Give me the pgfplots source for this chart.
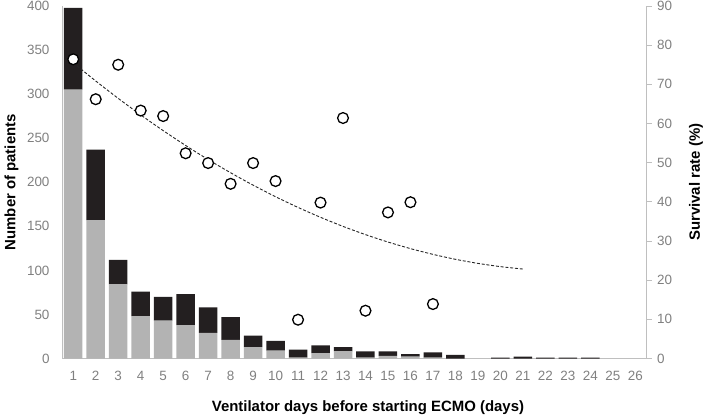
\documentclass[border=0pt]{standalone}
\usepackage{fontspec}
\setmainfont{Liberation Sans}
\usepackage{pgfplots}
\usepackage{pgfplotstable}
\pgfplotsset{compat=1.18}
\definecolor{bargray}{HTML}{B3B3B3}
\definecolor{barblack}{HTML}{231F20}
\definecolor{tickgray}{HTML}{808080}
\definecolor{axisgray}{HTML}{BFBFBF}

\pgfplotstableread{
x gray black
1 305 93
2 157 80
3 84 28
4 48 28
5 43 27
6 38 35
7 29 29
8 21 26
9 13 13
10 9 11
11 1 9
12 6 9
13 8 5
14 1 7
15 3 5
16 2 3
17 1 6
18 0 4
19 0 0
20 0 1
21 0 2
22 0 1
23 0 1
24 0 1
25 0 0
26 0 0
}\bars

\pgfplotstableread{
x rate
1 76.4
2 66.2
3 75.0
4 63.3
5 61.9
6 52.4
7 49.9
8 44.6
9 49.9
10 45.3
11 9.9
12 39.8
13 61.4
14 12.2
15 37.3
16 39.9
17 13.9
}\rates

\pgfplotstableread{
x trend
1 75.50
2 70.86
3 66.42
4 62.20
5 58.19
6 54.39
7 50.80
8 47.43
9 44.26
10 41.31
11 38.57
12 36.05
13 33.73
14 31.63
15 29.74
16 28.06
17 26.59
18 25.33
19 24.29
20 23.46
21 22.84
}\trend

\begin{document}
\begin{tikzpicture}
\path[use as bounding box] (-62bp,-59.5bp) rectangle (646bp,358.5bp);
\begin{axis}[
  scale only axis, width=584.5bp, height=352.5bp,
  at={(0,0)}, anchor=south west,
  xmin=0.5, xmax=26.5, ymin=0, ymax=400,
  ybar stacked, bar width=18.5bp,
  axis x line*=bottom, axis y line*=left,
  axis line style={draw=axisgray, line width=1bp, -},
  xtick={1,...,26}, ytick={0,50,...,400},
  tick style={draw=none},
  /pgf/number format/assume math mode=true,
  tick label style={font=\fontsize{13.5}{13.5}\selectfont, text=tickgray},
  yticklabel style={xshift=-9bp},
  xticklabel style={yshift=-9bp},
  xlabel={Ventilator days before starting ECMO (days)},
  ylabel={Number of patients},
  label style={font=\bfseries\fontsize{15}{15}\selectfont, text=black},
  xlabel style={at={(axis description cs:0.5235,-0.1404)}, anchor=center},
  ylabel style={at={(axis description cs:-0.0865,0.5)}, anchor=center, rotate=0},
]
\addplot[fill=bargray, draw=none] table[x=x, y=gray] {\bars};
\addplot[fill=barblack, draw=none] table[x=x, y=black] {\bars};
\end{axis}
\begin{axis}[
  scale only axis, width=584.5bp, height=352.5bp,
  at={(0,0)}, anchor=south west,
  xmin=0.5, xmax=26.5, ymin=0, ymax=90,
  axis x line=none, axis y line*=right,
  axis line style={draw=axisgray, line width=1bp, -},
  ytick={0,10,...,90},
  tick align=outside, major tick length=5bp,
  ytick style={draw=axisgray, line width=1bp},
  /pgf/number format/assume math mode=true,
  tick label style={font=\fontsize{13.5}{13.5}\selectfont, text=tickgray},
  yticklabel style={xshift=2bp},
  ylabel={Survival rate (\%)},
  label style={font=\bfseries\fontsize{15}{15}\selectfont, text=black},
  ylabel style={at={(axis description cs:1.0847,0.5)}, anchor=center, rotate=0},
]
\addplot[only marks, mark=*, mark size=5.4bp, mark options={fill=white, draw=black, line width=1.3bp}] table[x=x, y=rate] {\rates};
\addplot[smooth, draw=black!85, line width=0.9bp, dash pattern=on 3bp off 1.8bp] table[x=x, y=trend] {\trend};
\end{axis}
\end{tikzpicture}
\end{document}
